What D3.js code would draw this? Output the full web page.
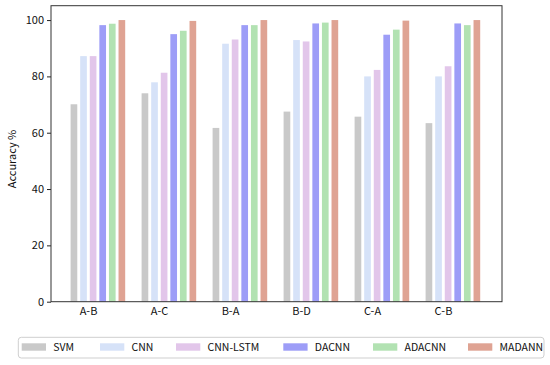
<!DOCTYPE html>
<html><head><meta charset="utf-8">
<script src="https://cdn.jsdelivr.net/npm/d3@7"></script>
<style>body{margin:0;background:#fff}svg{display:block}text{font-family:"Noto Sans CJK SC",sans-serif;fill:#111}</style>
</head><body><svg id="c" width="550" height="365"></svg>
<script>
const categories = ["A-B","A-C","B-A","B-D","C-A","C-B"];
const seriesNames = ["SVM","CNN","CNN-LSTM","DACNN","ADACNN","MADANN"];
const svmVals     = [70.1, 74.0, 61.7, 67.5, 65.7, 63.4];
const cnnVals     = [87.2, 77.9, 91.6, 92.9, 80.0, 80.0];
const cnnLstmVals = [87.2, 81.3, 93.1, 92.4, 82.3, 83.6];
const dacnnVals   = [98.2, 95.0, 98.2, 98.8, 94.8, 98.8];
const adacnnVals  = [98.7, 96.2, 98.2, 99.1, 96.6, 98.2];
const madannVals  = [100.0, 99.7, 100.0, 100.0, 99.8, 100.0];
const yTicks = [0, 20, 40, 60, 80, 100];
const colors = ["#c9c9c9","#d6e2f8","#e2c6ea","#9d9df7","#b2e2b2","#dfa393"];

const series = [svmVals, cnnVals, cnnLstmVals, dacnnVals, adacnnVals, madannVals];
const svg = d3.select("#c");
const L = 51, R = 502, T = 5.7, B = 301.7;
const FONT = "Noto Sans CJK SC";
const x = d3.scaleLinear().domain([-0.521, 5.831]).range([L, R]);
const y = d3.scaleLinear().domain([0, 105.1]).range([B, T]);
const barW = 0.094, barStep = 0.135, barOff = -0.245;

series.forEach((vals, k) => {
  svg.append("g").selectAll("rect").data(vals).join("rect")
    .attr("x", (d, i) => x(i + barOff + k * barStep))
    .attr("width", x(barW) - x(0))
    .attr("y", d => y(d))
    .attr("height", d => y(0) - y(d))
    .attr("fill", colors[k]);
});

// y axis
const yAxis = svg.append("g").attr("transform", `translate(${L},0)`)
  .call(d3.axisLeft(y).tickValues(yTicks).tickSize(4).tickPadding(3));
yAxis.select(".domain").remove();
yAxis.selectAll("line").attr("stroke", "#222");
yAxis.selectAll("text").attr("font-size", 11).attr("font-family", FONT);

// x axis labels
const xAxis = svg.append("g").attr("transform", `translate(0,${B})`)
  .call(d3.axisBottom(x).tickValues(d3.range(categories.length)).tickFormat(i => categories[i]).tickSize(0).tickPadding(6));
xAxis.select(".domain").remove();
xAxis.selectAll("text").attr("font-size", 11).attr("font-family", FONT);

// frame
svg.append("rect").attr("x", L).attr("y", T).attr("width", R - L).attr("height", B - T)
  .attr("fill", "none").attr("stroke", "#333").attr("stroke-width", 1);

// y label
svg.append("text").attr("transform", `translate(16,159) rotate(-90)`)
  .attr("text-anchor", "middle").attr("font-size", 11).text("Accuracy %");

// legend
const legendX = [21.7, 100, 176, 283.3, 373, 468];
const lg = svg.append("g");
lg.append("rect").attr("x", 18.3).attr("y", 337.3).attr("width", 525.7).attr("height", 20.7)
  .attr("rx", 3).attr("fill", "#fff").attr("stroke", "#cfcfcf").attr("stroke-width", 1);
seriesNames.forEach((name, k) => {
  const lx = legendX[k];
  lg.append("rect").attr("x", lx).attr("y", 343.3).attr("width", 24.3).attr("height", 7.4).attr("fill", colors[k]);
  lg.append("text").attr("x", lx + 31.5).attr("y", 351).attr("font-size", 10.5).text(name);
});
</script></body></html>
